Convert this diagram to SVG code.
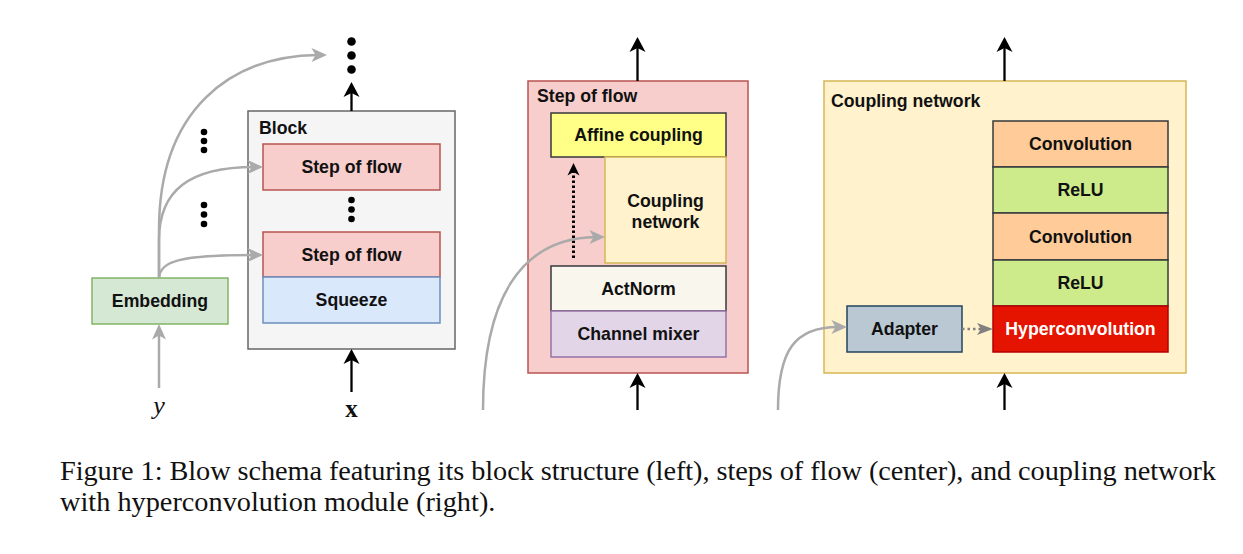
<svg xmlns="http://www.w3.org/2000/svg" width="1243" height="554" viewBox="0 0 1243 554">
<defs>
<style>
.t{font-family:"Liberation Sans",Arial,sans-serif;font-weight:bold;font-size:17.7px;fill:#111;text-anchor:middle}
.h{font-family:"Liberation Sans",Arial,sans-serif;font-weight:bold;font-size:17.7px;fill:#111}
.cap{font-family:"Liberation Serif","Times New Roman",serif;font-size:28.3px;fill:#111}
.b{stroke-width:1.5}
.blk{fill:none;stroke:#000;stroke-width:2.3}
.gry{fill:none;stroke:#aaaaaa;stroke-width:2.5}
</style>
<marker id="ab" viewBox="-17 -9 18 18" refX="-9" refY="0" markerWidth="18" markerHeight="18" markerUnits="userSpaceOnUse" orient="auto"><path d="M0,0 L-15,-8 L-11,0 L-15,8 Z" fill="#000"/></marker>
<marker id="ag" viewBox="-17 -8 18 16" refX="-9" refY="0" markerWidth="18" markerHeight="16" markerUnits="userSpaceOnUse" orient="auto"><path d="M0,0 L-15.5,-7 L-11.5,0 L-15.5,7 Z" fill="#aaaaaa"/></marker>
<marker id="ad" viewBox="-14 -7 15 14" refX="-7" refY="0" markerWidth="15" markerHeight="14" markerUnits="userSpaceOnUse" orient="auto"><path d="M0,0 L-12.5,-6 L-9,0 L-12.5,6 Z" fill="#000"/></marker>
<marker id="adg" viewBox="-18 -7 19 14" refX="-8" refY="0" markerWidth="19" markerHeight="14" markerUnits="userSpaceOnUse" orient="auto"><path d="M0,0 L-16,-6 L-12,0 L-16,6 Z" fill="#808080"/></marker>
</defs>
<rect width="1243" height="554" fill="#fff"/>

<!-- Left: Block -->
<g id="block">
<rect x="248" y="111" width="207" height="238" fill="#f5f5f5" stroke="#666666" class="b"/>
<text class="h" x="259" y="134">Block</text>
</g>
<g id="step1">
<rect x="263" y="144" width="177" height="46" fill="#f8cecc" stroke="#b85450" class="b"/>
<text class="t" x="351.5" y="173">Step of flow</text>
</g>
<g id="step2">
<rect x="263" y="232" width="177" height="45" fill="#f8cecc" stroke="#b85450" class="b"/>
<text class="t" x="351.5" y="261">Step of flow</text>
</g>
<g id="squeeze">
<rect x="263" y="277" width="177" height="46" fill="#dae8fc" stroke="#6c8ebf" class="b"/>
<text class="t" x="351.5" y="306">Squeeze</text>
</g>
<g id="embedding">
<rect x="92" y="278" width="136" height="46" fill="#d5e8d4" stroke="#82b366" class="b"/>
<text class="t" x="160" y="307">Embedding</text>
</g>
<g id="dots-left" fill="#000">
<circle cx="351.5" cy="41.5" r="4.3"/><circle cx="351.5" cy="55.5" r="4.3"/><circle cx="351.5" cy="69.5" r="4.3"/>
<circle cx="204" cy="132" r="3.3"/><circle cx="204" cy="141" r="3.3"/><circle cx="204" cy="150" r="3.3"/>
<circle cx="204" cy="205" r="3.3"/><circle cx="204" cy="214.5" r="3.3"/><circle cx="204" cy="224" r="3.3"/>
<circle cx="351.5" cy="200" r="3.3"/><circle cx="351.5" cy="209.5" r="3.3"/><circle cx="351.5" cy="219" r="3.3"/>
</g>
<g id="labels-xy">
<text x="159" y="414" font-family="'Liberation Serif','Times New Roman',serif" font-style="italic" font-size="26" text-anchor="middle" fill="#111">y</text>
<text x="351.5" y="417" font-family="'Liberation Serif','Times New Roman',serif" font-weight="bold" font-size="25" text-anchor="middle" fill="#111">x</text>
</g>

<!-- Center: Step of flow -->
<g id="stepflow">
<rect x="528" y="81" width="220" height="292" fill="#f8cecc" stroke="#b85450" class="b"/>
<text class="h" x="537" y="102">Step of flow</text>
</g>
<g id="affine">
<rect x="551" y="113" width="175" height="44" fill="#ffff88" stroke="#36393d" class="b"/>
<text class="t" x="638.5" y="141">Affine coupling</text>
</g>
<g id="coupling-small">
<rect x="605" y="157" width="121" height="106" fill="#fff2cc" stroke="#d6b656" class="b"/>
<text class="t" x="665.5" y="207">Coupling</text>
<text class="t" x="665.5" y="228">network</text>
</g>
<g id="actnorm">
<rect x="551" y="266" width="175" height="45" fill="#f9f7ed" stroke="#36393d" class="b"/>
<text class="t" x="638.5" y="295">ActNorm</text>
</g>
<g id="mixer">
<rect x="551" y="311" width="175" height="46" fill="#e1d5e7" stroke="#9673a6" class="b"/>
<text class="t" x="638.5" y="340">Channel mixer</text>
</g>

<!-- Right: Coupling network -->
<g id="couplingnet">
<rect x="824" y="81" width="362" height="292" fill="#fff2cc" stroke="#d6b656" class="b"/>
<text class="h" x="831" y="107">Coupling network</text>
</g>
<g id="conv1">
<rect x="993" y="121" width="175" height="46" fill="#ffcc99" stroke="#36393d" class="b"/>
<text class="t" x="1080.5" y="150">Convolution</text>
</g>
<g id="relu1">
<rect x="993" y="167" width="175" height="46" fill="#cdeb8b" stroke="#36393d" class="b"/>
<text class="t" x="1080.5" y="196">ReLU</text>
</g>
<g id="conv2">
<rect x="993" y="213" width="175" height="47" fill="#ffcc99" stroke="#36393d" class="b"/>
<text class="t" x="1080.5" y="242.5">Convolution</text>
</g>
<g id="relu2">
<rect x="993" y="260" width="175" height="46" fill="#cdeb8b" stroke="#36393d" class="b"/>
<text class="t" x="1080.5" y="289">ReLU</text>
</g>
<g id="hyperconv">
<rect x="993" y="306" width="175" height="46" fill="#e51400" stroke="#b20000" class="b"/>
<text class="t" x="1080.5" y="335" style="fill:#fff">Hyperconvolution</text>
</g>
<g id="adapter">
<rect x="847" y="306" width="115" height="46" fill="#bac8d3" stroke="#23445d" class="b"/>
<text class="t" x="904.5" y="335">Adapter</text>
</g>

<!-- Connectors -->
<g id="connectors">
<path class="blk" d="M351.5,111 L351.5,91" marker-end="url(#ab)"/>
<path class="blk" d="M351.5,392 L351.5,358" marker-end="url(#ab)"/>
<path class="blk" d="M637.5,81 L637.5,46" marker-end="url(#ab)"/>
<path class="blk" d="M637.5,410 L637.5,382" marker-end="url(#ab)"/>
<path class="blk" d="M1004.5,81 L1004.5,46" marker-end="url(#ab)"/>
<path class="blk" d="M1004.5,410 L1004.5,382" marker-end="url(#ab)"/>
<path d="M573.5,258 L573.5,170" fill="none" stroke="#000" stroke-width="3" stroke-dasharray="2.5,2.5" marker-end="url(#ad)"/>
<path d="M962,329 L985,329" fill="none" stroke="#808080" stroke-width="2.5" stroke-dasharray="2.5,3" marker-end="url(#adg)"/>
<path class="gry" d="M159,388 L159,333" marker-end="url(#ag)"/>
<path class="gry" d="M159,278 C160,261 180,255 254,255" marker-end="url(#ag)"/>
<path class="gry" d="M159,278 L159,240 C159,190 190,167 254,167" marker-end="url(#ag)"/>
<path class="gry" d="M159,278 L159,230 C159,110 230,56 318,55" marker-end="url(#ag)"/>
<path class="gry" d="M483,410 C483,300 520,238 596,237" marker-end="url(#ag)"/>
<path class="gry" d="M778,410 C778,350 795,327 838,327" marker-end="url(#ag)"/>
</g>

<!-- Caption -->
<text class="cap" x="60" y="480" textLength="1156" lengthAdjust="spacing">Figure 1: Blow schema featuring its block structure (left), steps of flow (center), and coupling network</text>
<text class="cap" x="60" y="511">with hyperconvolution module (right).</text>
</svg>
